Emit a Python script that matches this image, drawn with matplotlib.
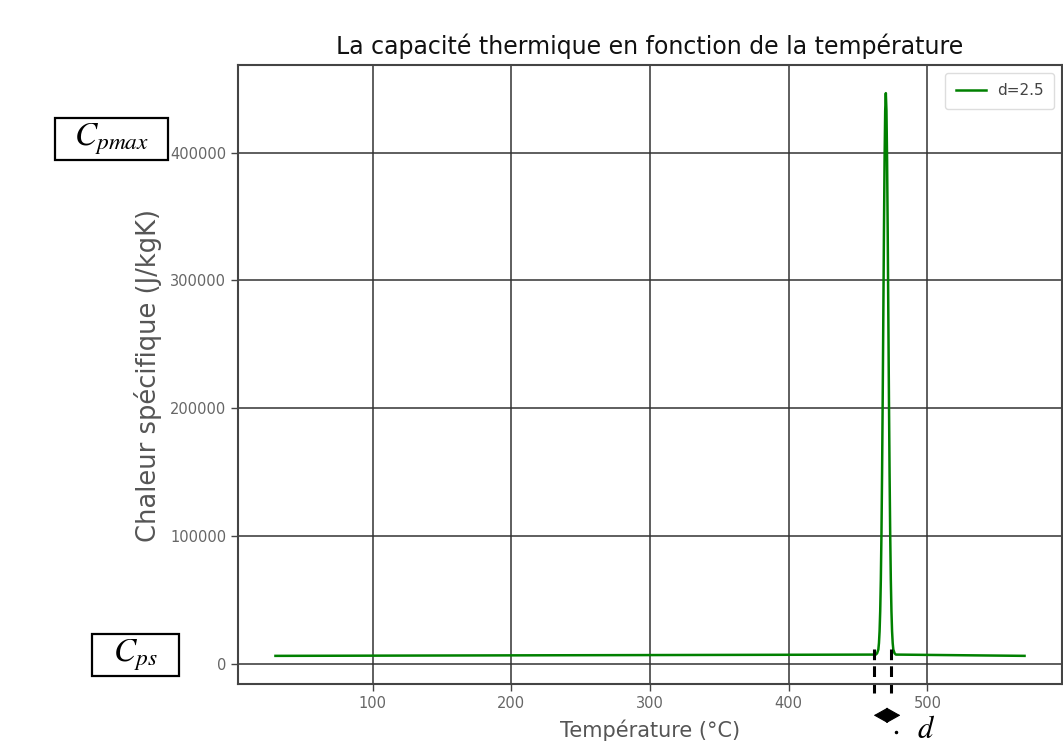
import matplotlib
matplotlib.use("Agg")
import matplotlib.pyplot as plt
from matplotlib.patches import Rectangle

# ---- data ----
temperature = [30, 462.8, 463.7, 464.6, 465.05, 465.5, 465.95, 466.4, 466.85,
               467.3, 467.75, 468.2, 468.65, 469.1, 469.55, 470, 470.45, 470.9,
               471.35, 471.8, 472.25, 472.7, 473.15, 473.6, 474.05, 474.5,
               474.95, 475.4, 476.3, 477.2, 570]
cp = [6500, 7500, 8500, 11400, 16500, 25800, 41500, 66000, 101700,
      149400, 207900, 273400, 338600, 394800, 432800, 446500, 432800, 394800,
      338600, 273400, 207900, 149400, 101700, 66000, 41500, 25800,
      16500, 11400, 8500, 7500, 6500]
legend_label = "d=2.5"
x_ticks = [100, 200, 300, 400, 500]
y_ticks = [0, 100000, 200000, 300000, 400000]
d_left, d_right = 461.7, 474.0

plt.rcParams['mathtext.fontset'] = 'stix'

W, H = 1063, 746
fig = plt.figure(figsize=(W / 100, H / 100), dpi=100)
ax = fig.add_axes([238 / W, 1 - 684 / H, 824 / W, 619 / H])

ax.plot(temperature, cp, color='green', lw=1.8, label=legend_label)
ax.set_xlim(3, 597)
ax.set_ylim(-15500, 468500)
ax.set_xticks(x_ticks)
ax.set_yticks(y_ticks)
ax.grid(True, color='#333333', lw=1.1)
for s in ax.spines.values():
    s.set_color('#444444')
    s.set_linewidth(1.5)
ax.tick_params(colors='#444444', length=5, width=1, labelcolor='#666666',
               labelsize=10.5)

ax.set_title("La capacité thermique en fonction de la température",
             fontsize=17, color='#111111', pad=8)
ax.set_xlabel("Température (°C)", fontsize=15, color='#555555')
ax.xaxis.set_label_coords(0.5, -0.058)
ax.set_ylabel("Chaleur spécifique (J/kgK)", fontsize=18.5, color='#555555')
ax.yaxis.set_label_coords(-0.092, 0.4976)

leg = ax.legend(loc='upper right', fontsize=11, framealpha=1,
                edgecolor='#dddddd', handlelength=2.0, borderpad=0.7,
                handletextpad=0.7)
for t in leg.get_texts():
    t.set_color('#444444')

# annotations
for xd in (d_left, d_right):
    ax.plot([xd, xd], [11700, -22700], color='black', lw=2.2,
            ls=(0, (3.5, 2)), clip_on=False)
ax.annotate('', xy=(461.3, -40000), xytext=(480.5, -40000),
            arrowprops=dict(arrowstyle='<|-|>,head_length=0.5,head_width=0.28',
                            mutation_scale=18, color='black', lw=0.8,
                            shrinkA=0, shrinkB=0),
            annotation_clip=False)
ax.plot([477.6], [-53000], marker='o', ms=1.5, color='black', clip_on=False)

fig.text(926 / W, 1 - 730 / H, r'$d$', fontsize=22, ha='center', va='center')

for (x0, y0, x1, y1, txt) in [(55, 118, 168, 160, r'$C_{pmax}$'),
                              (92, 634, 179, 676, r'$C_{ps}$')]:
    fig.patches.append(Rectangle((x0 / W, 1 - y1 / H), (x1 - x0) / W,
                                 (y1 - y0) / H, transform=fig.transFigure,
                                 facecolor='white', edgecolor='black', lw=1.6))
    fig.text((x0 + x1) / 2 / W, 1 - (y0 + y1) / 2 / H, txt, fontsize=24,
             ha='center', va='center')

fig.savefig('out.png', dpi=100)
